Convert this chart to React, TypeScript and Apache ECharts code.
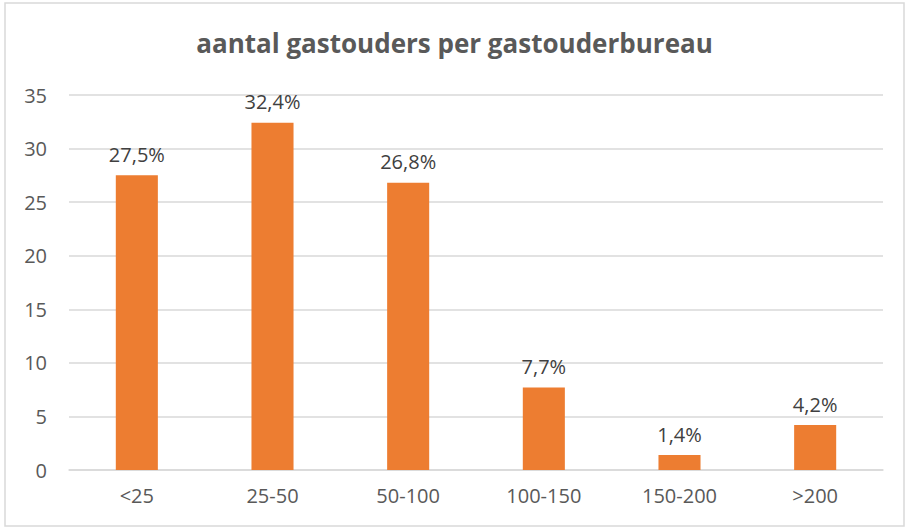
import React, { useEffect, useRef } from "react";
import * as echarts from "echarts";

const categories = ["<25", "25-50", "50-100", "100-150", "150-200", ">200"];
const values = [27.5, 32.4, 26.8, 7.7, 1.4, 4.2];
const yTicks = [0, 5, 10, 15, 20, 25, 30, 35];
const title = "aantal gastouders per gastouderbureau";

export default function App() {
  const ref = useRef<HTMLDivElement>(null);
  useEffect(() => {
    if (!ref.current) return;
    const chart = echarts.init(ref.current, null, { renderer: "svg" });
    const font = "'Open Sans', sans-serif";
    chart.setOption({
      animation: false,
      backgroundColor: "#ffffff",
      title: {
        text: title,
        left: "center",
        top: 25,
        textStyle: { fontFamily: font, fontSize: 26, fontWeight: "bold", color: "#595959" },
      },
      graphic: [
        {
          type: "rect",
          shape: { x: 5, y: 3, width: 899, height: 523 },
          style: { fill: "none", stroke: "#d9d9d9", lineWidth: 1.5 },
          silent: true,
        },
      ],
      grid: { left: 69, right: 26, top: 95, bottom: 59, containLabel: false },
      xAxis: {
        type: "category",
        data: categories,
        axisLine: { show: true, lineStyle: { color: "#d9d9d9", width: 1.5 } },
        axisTick: { show: false },
        axisLabel: { fontFamily: font, fontSize: 20, color: "#595959", margin: 15 },
      },
      yAxis: {
        type: "value",
        min: yTicks[0],
        max: yTicks[yTicks.length - 1],
        interval: 5,
        axisLine: { show: false },
        axisTick: { show: false },
        splitLine: { lineStyle: { color: "#d9d9d9", width: 1.5 } },
        axisLabel: { fontFamily: font, fontSize: 20, color: "#595959", margin: 22 },
      },
      series: [
        {
          type: "bar",
          data: values,
          barWidth: "31%",
          itemStyle: { color: "#ED7D31" },
          label: {
            show: true,
            position: "top",
            distance: 11,
            fontFamily: font,
            fontSize: 20,
            color: "#404040",
            formatter: (p: any) => String(p.value).replace(".", ",") + "%",
          },
        },
      ],
    });
    return () => chart.dispose();
  }, []);
  return (
    <div
      ref={ref}
      style={{ position: "fixed", left: 0, top: 0, width: 909, height: 529 }}
    />
  );
}
